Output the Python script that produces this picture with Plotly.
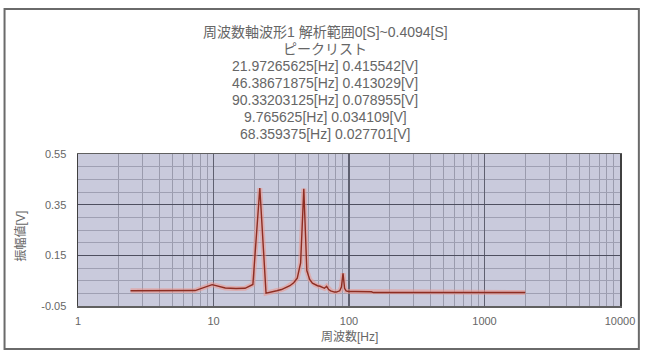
import plotly.graph_objects as go

# ---- data ----
freq_hz = [2.44, 4.88, 7.32, 9.77, 12.21, 14.65, 17.09, 19.53, 21.97, 24.41,
           26.86, 29.30, 31.74, 34.18, 36.62, 39.06, 41.50, 43.95, 46.39, 48.83,
           51.27, 53.71, 56.15, 58.59, 61.04, 63.48, 65.92, 68.36, 70.80, 73.24,
           75.68, 78.13, 80.57, 83.01, 85.45, 87.89, 90.33, 92.77, 95.21, 97.66,
           100.10, 112.30, 124.51, 136.72, 146.48, 151.37, 200.20, 300.29, 500.49,
           800.78, 1201.17, 1999.51]
amp_v = [0.010, 0.010, 0.011, 0.0341, 0.021, 0.019, 0.020, 0.035, 0.4155, 0.001,
         0.005, 0.010, 0.015, 0.022, 0.030, 0.042, 0.060, 0.120, 0.4130, 0.090,
         0.055, 0.040, 0.034, 0.030, 0.028, 0.025, 0.020, 0.0277, 0.015, 0.010,
         0.007, 0.005, 0.005, 0.006, 0.010, 0.025, 0.0790, 0.020, 0.010, 0.008,
         0.007, 0.007, 0.007, 0.007, 0.006, 0.003, 0.003, 0.003, 0.003,
         0.003, 0.003, 0.003]

title_lines = [
    "周波数軸波形1 解析範囲0[S]~0.4094[S]",
    "ピークリスト",
    "21.97265625[Hz] 0.415542[V]",
    "46.38671875[Hz] 0.413029[V]",
    "90.33203125[Hz] 0.078955[V]",
    "9.765625[Hz] 0.034109[V]",
    "68.359375[Hz] 0.027701[V]",
]
y_tick_vals = [-0.05, 0.15, 0.35, 0.55]
y_tick_text = ["-0.05", "0.15", "0.35", "0.55"]
x_tick_vals = [1, 10, 100, 1000, 10000]
x_tick_text = ["1", "10", "100", "1000", "10000"]
x_title = "周波数[Hz]"
y_title = "振幅値[V]"

FONT = "Liberation Sans, Noto Sans CJK JP, sans-serif"
TXT = "#666666"
W, H = 647, 353
L, R, T, B = 78, 23, 154, 47
pw, ph = W - L - R, H - T - B

fig = go.Figure()
# soft pink halo of the line
fig.add_trace(go.Scatter(x=freq_hz, y=amp_v, mode="lines",
                         line=dict(color="rgba(235,150,140,0.55)", width=5),
                         hoverinfo="skip", showlegend=False))
fig.add_trace(go.Scatter(x=freq_hz, y=amp_v, mode="lines",
                         line=dict(color="#8e2d22", width=1.4),
                         showlegend=False))

def px_to_paper_x(px):
    return (px - L) / pw

def py_to_paper_y(py):
    return (H - B - py) / ph

annotations = []
for i, t in enumerate(title_lines):
    annotations.append(dict(text=t, x=px_to_paper_x(327), y=py_to_paper_y(32 + 17 * i),
                            xref="paper", yref="paper", showarrow=False,
                            xanchor="center", yanchor="middle",
                            font=dict(family=FONT, size=14, color=TXT)))
annotations.append(dict(text=x_title, x=px_to_paper_x(351), y=py_to_paper_y(336),
                        xref="paper", yref="paper", showarrow=False,
                        xanchor="center", yanchor="middle",
                        font=dict(family=FONT, size=12, color=TXT)))
annotations.append(dict(text=y_title, x=px_to_paper_x(20), y=py_to_paper_y(236),
                        xref="paper", yref="paper", showarrow=False, textangle=-90,
                        xanchor="center", yanchor="middle",
                        font=dict(family=FONT, size=12, color=TXT)))

fig.update_layout(
    width=W, height=H,
    margin=dict(l=L, r=R, t=T, b=B),
    paper_bgcolor="white",
    plot_bgcolor="#c9cadc",
    annotations=annotations,
    shapes=[dict(type="rect", xref="paper", yref="paper",
                 x0=px_to_paper_x(4), x1=px_to_paper_x(643),
                 y0=py_to_paper_y(349), y1=py_to_paper_y(9),
                 line=dict(color="#6a6a6a", width=2), fillcolor="rgba(0,0,0,0)",
                 layer="below")],
    xaxis=dict(type="log", range=[0, 4], tickvals=x_tick_vals, ticktext=x_tick_text,
               showgrid=True, gridcolor="#5f6070", gridwidth=1.2,
               minor=dict(dtick="D1", showgrid=True, gridcolor="#9a9bad", gridwidth=1),
               showline=True, linecolor="#606060", linewidth=1.5, mirror=True,
               ticks="", zeroline=False, ticklabelstandoff=4,
               tickfont=dict(family=FONT, size=11, color=TXT)),
    yaxis=dict(range=[-0.05, 0.55], tickvals=y_tick_vals, ticktext=y_tick_text,
               showgrid=True, gridcolor="#4e4f60", gridwidth=1.3,
               minor=dict(dtick=0.05, tick0=-0.05, showgrid=True, gridcolor="#9fa0b3", gridwidth=1),
               showline=True, linecolor="#404040", linewidth=1.5, mirror=True,
               ticks="", zeroline=False, ticklabelstandoff=8,
               tickfont=dict(family=FONT, size=11, color=TXT)),
)

fig.write_html("out.html",
               config={"staticPlot": True, "displayModeBar": False},
               post_script="document.body.style.margin='0';document.body.style.overflow='hidden';")
